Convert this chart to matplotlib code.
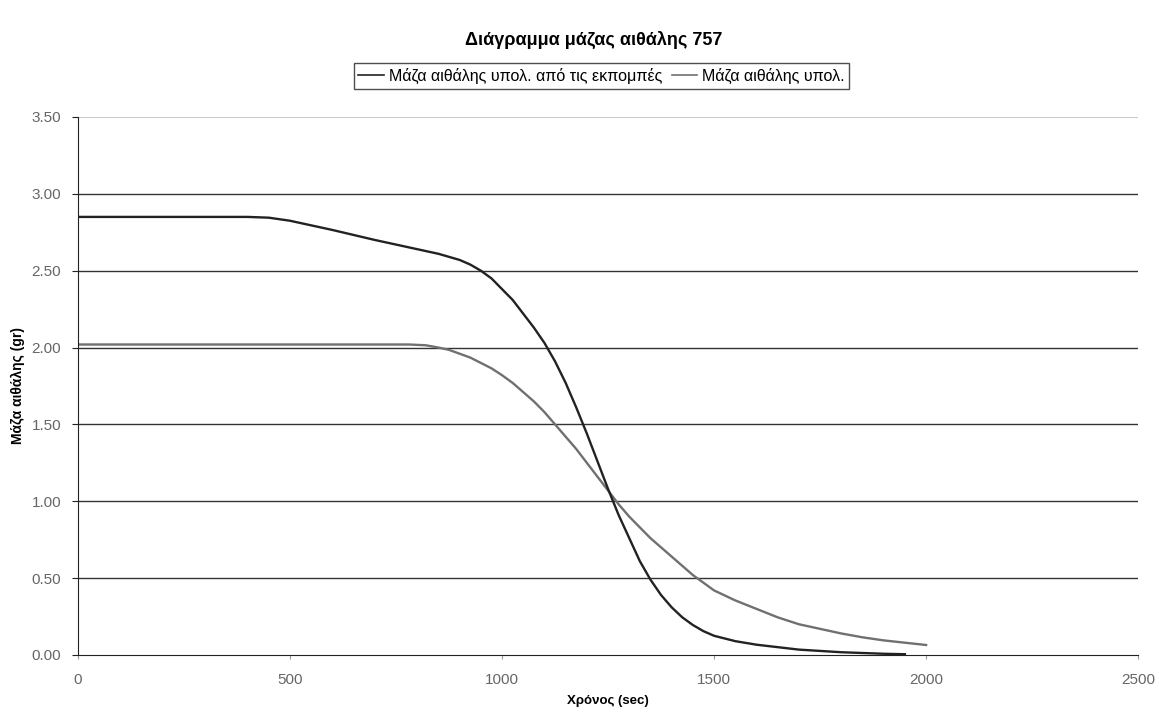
import matplotlib
matplotlib.use("Agg")
import matplotlib.pyplot as plt

plt.rcParams['font.family'] = ['Liberation Sans', 'DejaVu Sans']

# soot mass from emissions (dark line)
t_emis = [0, 100, 200, 300, 400, 450, 500, 550, 600, 700, 800, 850, 900, 925,
          950, 975, 1000, 1025, 1050, 1075, 1100, 1125, 1150, 1175, 1200, 1225,
          1250, 1275, 1300, 1325, 1350, 1375, 1400, 1425, 1450, 1475, 1500,
          1550, 1600, 1700, 1800, 1900, 1950]
m_emis = [2.85, 2.85, 2.85, 2.85, 2.85, 2.845, 2.825, 2.795, 2.765, 2.70, 2.64,
          2.61, 2.57, 2.54, 2.50, 2.45, 2.38, 2.31, 2.22, 2.13, 2.03, 1.91,
          1.77, 1.61, 1.44, 1.26, 1.08, 0.91, 0.76, 0.61, 0.49, 0.39, 0.31,
          0.245, 0.195, 0.155, 0.125, 0.09, 0.067, 0.035, 0.018, 0.008, 0.005]

# calculated soot mass (grey line)
t_calc = [0, 200, 400, 600, 780, 820, 850, 875, 900, 925, 950, 975, 1000, 1025,
          1050, 1075, 1100, 1125, 1150, 1175, 1200, 1225, 1250, 1275, 1300,
          1325, 1350, 1375, 1400, 1425, 1450, 1475, 1500, 1550, 1600, 1650,
          1700, 1750, 1800, 1850, 1900, 1950, 2000]
m_calc = [2.02, 2.02, 2.02, 2.02, 2.02, 2.015, 2.00, 1.985, 1.96, 1.935, 1.90,
          1.865, 1.82, 1.77, 1.71, 1.65, 1.58, 1.50, 1.42, 1.34, 1.25, 1.16,
          1.07, 0.98, 0.90, 0.83, 0.76, 0.70, 0.64, 0.58, 0.52, 0.47, 0.42,
          0.355, 0.30, 0.245, 0.20, 0.17, 0.14, 0.115, 0.095, 0.08, 0.065]

labels = ["Μάζα αιθάλης υπολ. από τις εκπομπές", "Μάζα αιθάλης υπολ."]
yticks = [0.0, 0.5, 1.0, 1.5, 2.0, 2.5, 3.0, 3.5]
xticks = [0, 500, 1000, 1500, 2000, 2500]

fig = plt.figure(figsize=(11.59, 7.16), dpi=100)
ax = fig.add_axes([0.0673, 0.0852, 0.9147, 0.7514])

# grid lines
for y in yticks[1:-1]:
    ax.axhline(y, color='#333333', lw=1.0, zorder=1)
ax.axhline(3.5, color='#cccccc', lw=0.8, zorder=1)

l1, = ax.plot(t_emis, m_emis, color='#222222', lw=1.7, zorder=3)
l2, = ax.plot(t_calc, m_calc, color='#707070', lw=1.7, zorder=2)

ax.set_xlim(0, 2500)
ax.set_ylim(0, 3.5)
ax.set_xticks(xticks)
ax.set_yticks(yticks)
ax.set_yticklabels(["%.2f" % v for v in yticks])
for s in ['top', 'right']:
    ax.spines[s].set_visible(False)
ax.spines['left'].set_color('#222222')
ax.spines['bottom'].set_color('#222222')
ax.tick_params(axis='both', colors='#222222', labelcolor='#666666',
               labelsize=11, length=4, direction='out')
ax.tick_params(axis='y', pad=8)
ax.tick_params(axis='x', length=3, colors='#999999', labelcolor='#666666', pad=10)

fig.text(0.512, 0.944, "Διάγραμμα μάζας αιθάλης 757", ha='center', va='center',
         fontsize=13, fontweight='bold')
ax.set_xlabel("Χρόνος (sec)", fontsize=9.5, fontweight='bold', labelpad=6)
fig.text(0.0155, 0.462, "Μάζα αιθάλης (gr)", rotation=90, ha='center',
         va='center', fontsize=10, fontweight='bold')

leg = fig.legend([l1, l2], labels, loc='center', bbox_to_anchor=(0.519, 0.894),
                 ncol=2, fontsize=11.5, frameon=True, fancybox=False,
                 handlelength=1.6, handletextpad=0.3, columnspacing=0.6,
                 borderpad=0.3)
leg.get_frame().set_edgecolor('#222222')
leg.get_frame().set_linewidth(1.0)
for ln in leg.get_lines():
    ln.set_linewidth(1.2)

fig.savefig("out.png", dpi=100)
